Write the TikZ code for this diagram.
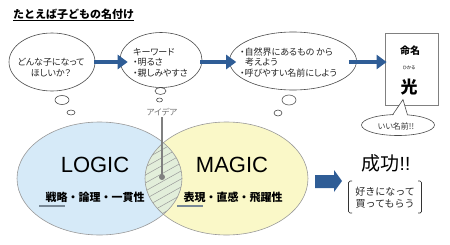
\documentclass[tikz,border=0pt]{standalone}
\usepackage{fontspec}
\setmainfont{Noto Sans CJK JP}[RawFeature={+palt}]
\newfontfamily\jpwide{Noto Sans CJK JP}
\newfontfamily\arialfont{Liberation Sans}
\usetikzlibrary{arrows.meta,shapes.geometric}

\definecolor{arrowblue}{RGB}{47,93,150}
\definecolor{logicblue}{RGB}{214,234,248}
\definecolor{magicyellow}{RGB}{250,248,200}
\definecolor{lensgreen}{RGB}{226,238,218}
\definecolor{ulinegray}{RGB}{120,136,150}

\tikzset{
  thought/.style={ellipse, draw=black!70, line width=0.6pt, fill=white, inner sep=0pt},
  puff/.style={draw=black!70, line width=0.6pt},
  flow/.style={arrowblue, line width=3.2pt, -{Triangle[length=10pt,width=14pt]}},
  txt/.style={font=\fontsize{9}{10.5}\selectfont, text=black!85, align=left, inner sep=0pt},
  venn/.style={draw=black!40, line width=0.6pt},
  hatch/.style={black!40, line width=0.5pt},
  word/.style={font=\arialfont\fontsize{22}{24}\selectfont, inner sep=0pt},
  trait/.style={font=\jpwide\bfseries\fontsize{11}{13}\selectfont, inner sep=0pt},
  uline/.style={ulinegray, line width=2pt},
  bracket/.style={black!80, line width=0.7pt, rounded corners=1.5pt}
}

\begin{document}
\begin{tikzpicture}[x=1pt,y=-1pt]
\useasboundingbox (0,0) rectangle (450,244);

\node[anchor=west, inner sep=0pt, font=\jpwide\bfseries\fontsize{11}{13}\selectfont] (title) at (13,14) {たとえば子どもの名付け};
\draw[line width=0.8pt] ([yshift=-1pt]title.south west) -- ([yshift=-1pt]title.south east);

% thought bubbles
\node[thought, minimum width=86, minimum height=58] (wish) at (52,62) {};
\node[thought, minimum width=82, minimum height=55] (keys) at (161,60) {};
\node[thought, minimum width=127, minimum height=58] (nature) at (293,61) {};

\node[txt, align=center] (wishtext) at (51,67.5) {どんな子になって\\ほしいか？};
\node[txt, anchor=west] (keystext) at (133,62.5) {キーワード\\・明るさ\\・親しみやすさ};
\node[txt, anchor=west] (naturetext) at (240,62.5) {・自然界にあるもの から\\\hspace*{5pt}考えよう\\・呼びやすい名前にしよう};

\foreach \px/\py/\rx/\ry in {62/100/7/4.5, 71/112.5/4/2.5, 160.5/91/5.5/3.5, 159.5/100/3/2, 289/100/7/5, 278/113/4/3}
  \draw[puff] (\px,\py) ellipse [x radius=\rx pt, y radius=\ry pt];

% result
\node[draw=black!50, line width=0.8pt, fill=white, minimum width=53, minimum height=72] (result) at (411.5,69) {};
\node[font=\jpwide\bfseries\fontsize{10}{12}\selectfont, inner sep=0pt] (meimei) at (410,51) {命名};
\node[font=\fontsize{4.5}{5}\selectfont, inner sep=0pt] (ruby) at (409,68) {ひかる};
\node[font=\jpwide\bfseries\fontsize{17}{19}\selectfont, inner sep=0pt] (hikaru) at (409,87) {光};

\draw[flow, shorten <=-1pt, shorten >=-8pt] (wish.east) -- (wish.east -| keys.west);
\draw[flow, shorten <=-2pt, shorten >=-7pt] (keys.east |- wish.east) -- (nature.west |- wish.east);
\draw[flow, shorten <=-8pt, shorten >=-2pt] (nature.east |- wish.east) -- (result.west |- wish.east);

\node[ellipse, draw=black!70, line width=0.6pt, fill=white, minimum width=73, minimum height=21, inner sep=0pt] (praise) at (398,125) {};
\fill[white] (392.5,116.5) -- (403,99.5) -- (407.5,116.5) -- cycle;
\draw[black!70, line width=0.6pt] (392.5,115) -- (403,99.5) -- (407.5,115);
\node[font=\fontsize{8}{9}\selectfont, text=black!80, inner sep=0pt] (praisetext) at (396,126) {いい名前!!};

% logic and magic
\fill[logicblue] (99.5,178.5) ellipse [x radius=82.5pt, y radius=56.5pt];
\fill[magicyellow] (226.5,178.5) ellipse [x radius=81.5pt, y radius=56.5pt];
\begin{scope}
  \clip (99.5,178.5) ellipse [x radius=82.5pt, y radius=56.5pt];
  \clip (226.5,178.5) ellipse [x radius=81.5pt, y radius=56.5pt];
  \fill[lensgreen] (140,120) rectangle (190,240);
  \foreach \k in {130,138,...,270}
    \draw[hatch] (140,\k) -- (190,\k-28);
\end{scope}
\draw[venn] (99.5,178.5) ellipse [x radius=82.5pt, y radius=56.5pt];
\draw[venn] (226.5,178.5) ellipse [x radius=81.5pt, y radius=56.5pt];

\node[font=\fontsize{8.5}{10}\selectfont, text=black!55, inner sep=1pt] (idea) at (162,112) {アイデア};
\coordinate (spark) at (162,177);
\draw[black!50, line width=1.2pt] (idea.south) -- (spark);
\fill[black!50] (spark) circle (3pt);

\node[word] (logic) at (95,165) {LOGIC};
\node[word] (magic) at (232,165) {MAGIC};
\node[trait] (logictraits) at (95,197) {戦略・論理・一貫性};
\node[trait] (magictraits) at (233,197) {表現・直感・飛躍性};
\draw[uline] (39,206) -- (65,206);
\draw[uline] (177,206) -- (203,206);

\fill[arrowblue] (315,175) -- (334,175) -- (334,170) -- (342,181) -- (334,192) -- (334,188) -- (315,188) -- cycle;

\node[font=\jpwide\fontsize{19}{21}\selectfont, inner sep=0pt] (success) at (386,163) {成功{\arialfont !!}};
\node[txt, font=\jpwide\fontsize{10}{12}\selectfont, align=center] (fans) at (385,198) {好きになって\\買ってもらう};
\draw[bracket] (352,181) -- (348.5,181) -- (348.5,213) -- (352,213);
\draw[bracket] (418,181) -- (421.5,181) -- (421.5,213) -- (418,213);
\end{tikzpicture}
\end{document}
